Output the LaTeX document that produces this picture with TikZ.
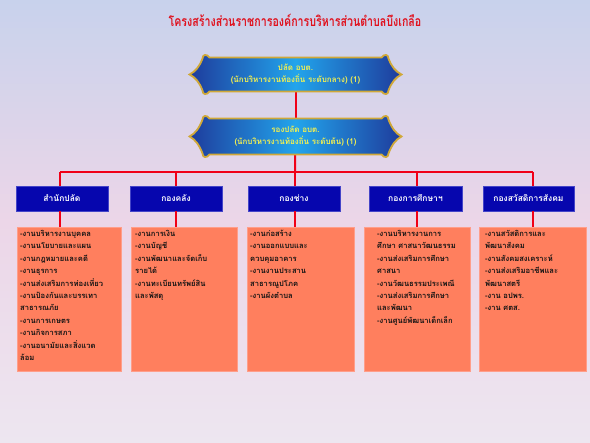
\documentclass[tikz,border=0pt]{standalone}
\usepackage{fontspec}
\newfontfamily\thai[Script=Thai]{Loma}
\usetikzlibrary{calc}
\definecolor{bgtop}{HTML}{C8D2EC}
\definecolor{bgmid}{HTML}{ECD6E8}
\definecolor{bgbot}{HTML}{EDE6F0}
\definecolor{titlered}{HTML}{E0101C}
\definecolor{bandark}{HTML}{1E3C9C}
\definecolor{banlight}{HTML}{22A4EC}
\definecolor{gold}{HTML}{D0A838}
\definecolor{bantext}{HTML}{F4F050}
\definecolor{deptblue}{HTML}{0606AE}
\definecolor{deptedge}{HTML}{4444C8}
\definecolor{salmon}{HTML}{FF7F5E}
\definecolor{salmonedge}{HTML}{FF9E8A}
\definecolor{linered}{HTML}{F00018}
\begin{document}
\begin{tikzpicture}[x=1pt,y=-1pt,
  bantxt/.style={inner sep=0pt,minimum width=180pt,minimum height=35pt,align=center,
    text=bantext,font=\thai\bfseries\fontsize{8}{12}\selectfont},
  banshape/.style={left color=bandark,right color=bandark,middle color=banlight,draw=gold,line width=1.8pt},
  dept/.style={fill=deptblue,draw=deptedge,line width=0.8pt,text=white,inner sep=0pt,
    font=\thai\bfseries\fontsize{8.5}{10}\selectfont},
  orbox/.style={fill=salmon,draw=salmonedge,line width=0.8pt,inner sep=0pt,anchor=north west},
  ortxt/.style={anchor=north west,align=left,inner sep=0pt,text=black!92,
    font=\thai\bfseries\fontsize{7.6}{12.4}\selectfont},
  redline/.style={draw=linered,line width=2pt}
]
\path[use as bounding box] (0,0) rectangle (590,443);
\shade[top color=bgtop,bottom color=bgbot,middle color=bgmid] (0,0) rectangle (590,443);

\node[text=titlered,font=\thai\bfseries\fontsize{14}{16}\selectfont,inner sep=0pt] (title) at (295,20)
  {\scalebox{0.76}[1]{โครงสร้างส่วนราชการองค์การบริหารส่วนตำบลบึงเกลือ}};

% banners
\newcommand\bannerpath[3]{% cx, cy, h
  \path[banshape] (#1-86,#2-#3) -- (#1+86,#2-#3)
    .. controls (#1+89,#2-#3-4) and (#1+93,#2-#3-3) .. (#1+93,#2-#3+1)
    .. controls (#1+96,#2-#3+9) and (#1+100,#2-3) .. (#1+106,#2)
    .. controls (#1+100,#2+3) and (#1+96,#2+#3-9) .. (#1+93,#2+#3-1)
    .. controls (#1+93,#2+#3+3) and (#1+89,#2+#3+4) .. (#1+86,#2+#3)
    -- (#1-86,#2+#3)
    .. controls (#1-89,#2+#3+4) and (#1-93,#2+#3+3) .. (#1-93,#2+#3-1)
    .. controls (#1-96,#2+#3-9) and (#1-100,#2+3) .. (#1-106,#2)
    .. controls (#1-100,#2-3) and (#1-96,#2-#3+9) .. (#1-93,#2-#3+1)
    .. controls (#1-93,#2-#3-3) and (#1-89,#2-#3-4) .. cycle;}

\coordinate (hub) at (295,172);
\coordinate (j1) at (60,172);
\coordinate (j2) at (176,172);
\coordinate (j3) at (295,172);
\coordinate (j4) at (417,172);
\coordinate (j5) at (533,172);

\node[bantxt] (b1) at (295.5,74.5) {};
\node[bantxt] (b2) at (295.5,136.5) {};
\draw[redline] (b1.center) -- (b2.center);
\draw[redline] (b2.center) -- (hub);
\bannerpath{295.5}{74.5}{17}
\bannerpath{295.5}{136.5}{18}
\node[bantxt] at (b1) {ปลัด อบต.\\(นักบริหารงานท้องถิ่น ระดับกลาง) (1)};
\node[bantxt] at (b2) {รองปลัด อบต.\\(นักบริหารงานท้องถิ่น ระดับต้น) (1)};

\draw[redline] (j1) -- (j5);

% department boxes
\node[dept,minimum width=92pt,minimum height=25pt] (d1) at (62,198.5) {สำนักปลัด};
\node[dept,minimum width=92pt,minimum height=25pt] (d2) at (176,198.5) {กองคลัง};
\node[dept,minimum width=92pt,minimum height=25pt] (d3) at (294,198.5) {กองช่าง};
\node[dept,minimum width=93pt,minimum height=25pt] (d4) at (415.5,198.5) {กองการศึกษาฯ};
\node[dept,minimum width=91pt,minimum height=25pt] (d5) at (528.5,198.5) {กองสวัสดิการสังคม};

% orange boxes
\node[orbox,minimum width=104pt,minimum height=144pt] (o1) at (17,227) {};
\node[orbox,minimum width=106pt,minimum height=144pt] (o2) at (131,227) {};
\node[orbox,minimum width=107pt,minimum height=144pt] (o3) at (247,227) {};
\node[orbox,minimum width=106pt,minimum height=144pt] (o4) at (364,227) {};
\node[orbox,minimum width=107pt,minimum height=144pt] (o5) at (479,227) {};

\foreach \i in {1,...,5}{
  \draw[redline] (j\i) -- (d\i.north -| j\i);
  \draw[redline] (d\i.south -| j\i) -- (o\i.north -| j\i);
}

\node[ortxt] (t1) at (20,230) {-งานบริหารงานบุคคล\\-งานนโยบายและแผน\\-งานกฎหมายและคดี\\-งานธุรการ\\-งานส่งเสริมการท่องเที่ยว\\-งานป้องกันและบรรเทา\\สาธารณภัย\\-งานการเกษตร\\-งานกิจการสภา\\-งานอนามัยและสิ่งแวด\\ล้อม};
\node[ortxt] (t2) at (135,230) {-งานการเงิน\\-งานบัญชี\\-งานพัฒนาและจัดเก็บ\\รายได้\\-งานทะเบียนทรัพย์สิน\\และพัสดุ};
\node[ortxt] (t3) at (250,230) {-งานก่อสร้าง\\-งานออกแบบและ\\ควบคุมอาคาร\\-งานงานประสาน\\สาธารณูปโภค\\-งานผังตำบล};
\node[ortxt] (t4) at (377,230) {-งานบริหารงานการ\\ศึกษา ศาสนาวัฒนธรรม\\-งานส่งเสริมการศึกษา\\ศาสนา\\-งานวัฒนธรรมประเพณี\\-งานส่งเสริมการศึกษา\\และพัฒนา\\-งานศูนย์พัฒนาเด็กเล็ก};
\node[ortxt] (t5) at (485,230) {-งานสวัสดิการและ\\พัฒนาสังคม\\-งานสังคมสงเคราะห์\\-งานส่งเสริมอาชีพและ\\พัฒนาสตรี\\-งาน อปพร.\\-งาน ศตส.};
\end{tikzpicture}
\end{document}
